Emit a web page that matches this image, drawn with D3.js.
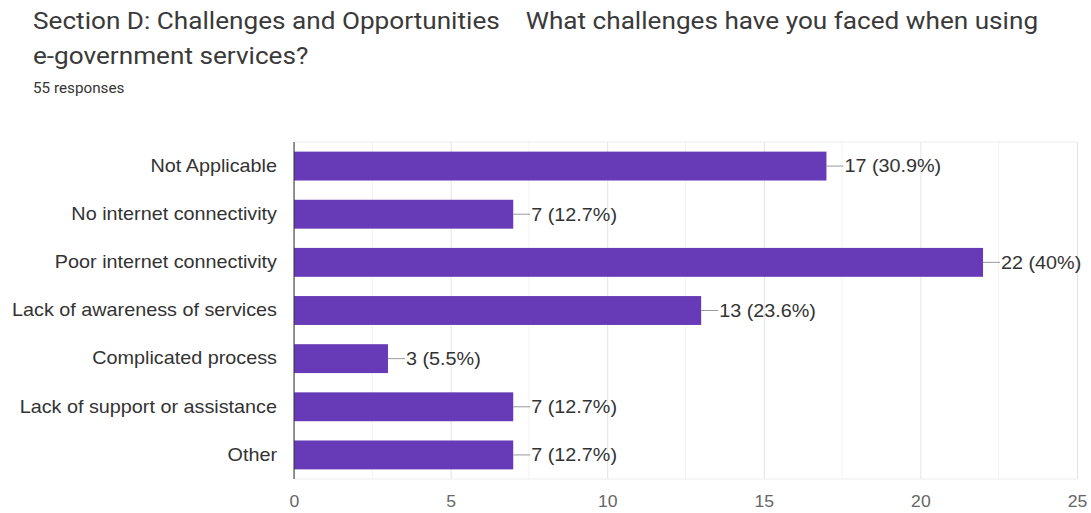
<!DOCTYPE html>
<html>
<head>
<meta charset="utf-8">
<script src="https://cdn.jsdelivr.net/npm/d3@7"></script>
<style>
  html, body { margin: 0; padding: 0; background: #fff; }
  svg { display: block; }
</style>
</head>
<body>
<svg id="chart" width="1091" height="513"></svg>
<script>
const categories = [
  "Not Applicable",
  "No internet connectivity",
  "Poor internet connectivity",
  "Lack of awareness of services",
  "Complicated process",
  "Lack of support or assistance",
  "Other"
];
const counts = [17, 7, 22, 13, 3, 7, 7];
const percents = ["30.9%", "12.7%", "40%", "23.6%", "5.5%", "12.7%", "12.7%"];
const xTicks = [0, 5, 10, 15, 20, 25];
const totalResponses = 55;

const svg = d3.select("#chart");
const W = 1091, H = 513;
const margin = { left: 294, right: 14, top: 142, bottom: 34 };
const stretch = 1.1; // text is rendered slightly wide

// Title block
const titleFont = "Roboto, 'Noto Sans', sans-serif";
const title = svg.append("g").attr("transform", `translate(33,0) scale(1.09,1)`);
title.append("text")
  .attr("x", 0).attr("y", 29)
  .attr("font-family", titleFont).attr("font-size", 24)
  .attr("fill", "#3a3a3a")
  .style("white-space", "pre")
  .text("Section D: Challenges and Opportunities    What challenges have you faced when using");
title.append("text")
  .attr("x", 0).attr("y", 64)
  .attr("font-family", titleFont).attr("font-size", 24)
  .attr("fill", "#3a3a3a")
  .text("e-government services?");
title.append("text")
  .attr("x", 0).attr("y", 93)
  .attr("font-family", titleFont).attr("font-size", 14)
  .attr("fill", "#333")
  .text(totalResponses + " responses");

const x = d3.scaleLinear().domain([0, 25]).range([margin.left, W - margin.right]);
const y = d3.scaleBand().domain(categories)
  .range([margin.top, H - margin.bottom])
  .paddingInner(0.4).paddingOuter(0.2);

const labelFont = "'Liberation Sans', Arial, sans-serif";

// Minor gridlines
const minor = d3.range(2.5, 25, 5);
svg.append("g").selectAll("line").data(minor).join("line")
  .attr("x1", d => x(d)).attr("x2", d => x(d))
  .attr("y1", margin.top).attr("y2", H - margin.bottom)
  .attr("stroke", "#f3f3f3").attr("stroke-width", 1);

// Major gridlines + axis tick labels
const xAxis = d3.axisBottom(x).tickValues(xTicks)
  .tickSize(-(H - margin.bottom - margin.top)).tickPadding(0);
const gx = svg.append("g")
  .attr("transform", `translate(0,${H - margin.bottom})`)
  .call(xAxis);
gx.select(".domain").remove();
gx.selectAll(".tick line").attr("stroke", "#e3e3e3");
gx.selectAll(".tick text")
  .attr("y", 28).attr("dy", 0)
  .attr("transform", `scale(${stretch},1)`)
  .attr("font-family", labelFont).attr("font-size", 16).attr("fill", "#666");

// Horizontal frame lines
svg.append("line")
  .attr("x1", margin.left).attr("x2", W - margin.right)
  .attr("y1", margin.top).attr("y2", margin.top)
  .attr("stroke", "#ececec");
svg.append("line")
  .attr("x1", margin.left).attr("x2", W - margin.right)
  .attr("y1", H - margin.bottom).attr("y2", H - margin.bottom)
  .attr("stroke", "#ececec");

// Bars
svg.append("g").selectAll("rect").data(categories).join("rect")
  .attr("x", x(0))
  .attr("y", d => y(d))
  .attr("width", (d, i) => x(counts[i]) - x(0))
  .attr("height", y.bandwidth())
  .attr("fill", "#673ab7");

// Baseline axis
svg.append("line")
  .attr("x1", x(0)).attr("x2", x(0))
  .attr("y1", margin.top).attr("y2", H - margin.bottom)
  .attr("stroke", "#333").attr("stroke-width", 1);

// Category labels
const gy = svg.append("g")
  .attr("transform", `translate(${x(0)},0)`)
  .call(d3.axisLeft(y).tickSize(0).tickPadding(0));
gy.select(".domain").remove();
gy.selectAll(".tick text")
  .attr("x", -17 / stretch)
  .attr("transform", `scale(${stretch},1)`)
  .attr("font-family", labelFont).attr("font-size", 18).attr("fill", "#333");

// Value annotations with leader lines
const ann = svg.append("g").selectAll("g").data(categories).join("g")
  .attr("transform", (d, i) => `translate(${x(counts[i])},${y(d) + y.bandwidth() / 2})`);
ann.append("line")
  .attr("x1", 0).attr("x2", 17).attr("y1", 0).attr("y2", 0)
  .attr("stroke", "#999");
ann.append("text")
  .attr("x", 18 / stretch).attr("dy", "0.35em")
  .attr("transform", `scale(${stretch},1)`)
  .attr("font-family", labelFont).attr("font-size", 18).attr("fill", "#333")
  .text((d, i) => `${counts[i]} (${percents[i]})`);
</script>
</body>
</html>
